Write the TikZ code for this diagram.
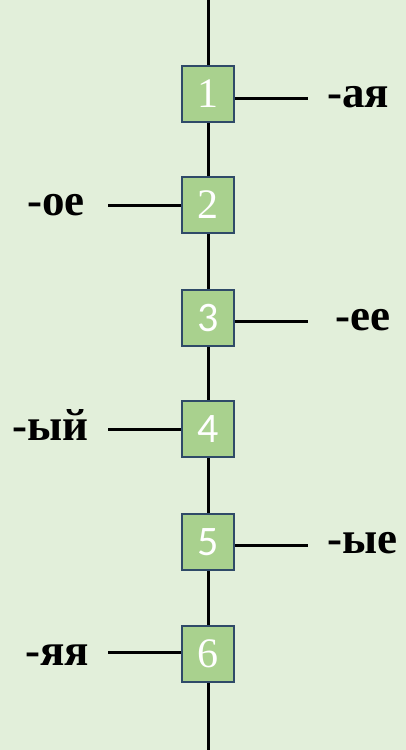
\documentclass[tikz,border=0pt]{standalone}
\usepackage{fontspec}
\setmainfont{Liberation Serif}
\newfontfamily\calfont{Carlito}
\definecolor{bgc}{HTML}{E2EFDA}
\definecolor{boxfill}{HTML}{A9D18E}
\definecolor{boxline}{HTML}{2F4A68}
\begin{document}
\begin{tikzpicture}[x=1pt,y=-1pt,
  numbox/.style={draw=boxline,line width=2pt,fill=boxfill,minimum width=52pt,minimum height=56pt,inner sep=0pt,text=white,font=\fontsize{42}{42}\selectfont},
  suffix/.style={anchor=base west,inner sep=0pt,font=\fontsize{45}{45}\selectfont\bfseries},
  conn/.style={line width=3pt,black}]
\fill[bgc] (0,0) rectangle (406,750);
\useasboundingbox (0,0) rectangle (406,750);
\coordinate (top) at (208,0);
\coordinate (bot) at (208,750);
\node[numbox] (b1) at (208,94) {1};
\node[numbox] (b2) at (208,205) {2};
\node[numbox] (b3) at (208,318) {{\calfont 3}};
\node[numbox] (b4) at (208,429) {{\calfont 4}};
\node[numbox] (b5) at (208,542) {{\calfont 5}};
\node[numbox] (b6) at (208,654) {6};
\begin{scope}[on background layer/.try]
\end{scope}
\draw[conn] (top) -- (b1.north);
\draw[conn] (b1.south) -- (b2.north);
\draw[conn] (b2.south) -- (b3.north);
\draw[conn] (b3.south) -- (b4.north);
\draw[conn] (b4.south) -- (b5.north);
\draw[conn] (b5.south) -- (b6.north);
\draw[conn] (b6.south) -- (bot);
\node[suffix] (l1) at (327,107) {-ая};
\node[suffix] (l2) at (27,215) {-ое};
\node[suffix] (l3) at (335,330) {-ее};
\node[suffix] (l4) at (12,440) {-ый};
\node[suffix] (l5) at (327,553) {-ые};
\node[suffix] (l6) at (25,665) {-яя};
\coordinate (e1) at (308,98);
\coordinate (e2) at (108,205);
\coordinate (e3) at (308,321);
\coordinate (e4) at (108,429);
\coordinate (e5) at (308,545);
\coordinate (e6) at (108,652);
\draw[conn] (b1.east |- e1) -- (e1);
\draw[conn] (b2.west |- e2) -- (e2);
\draw[conn] (b3.east |- e3) -- (e3);
\draw[conn] (b4.west |- e4) -- (e4);
\draw[conn] (b5.east |- e5) -- (e5);
\draw[conn] (b6.west |- e6) -- (e6);
\end{tikzpicture}
\end{document}
